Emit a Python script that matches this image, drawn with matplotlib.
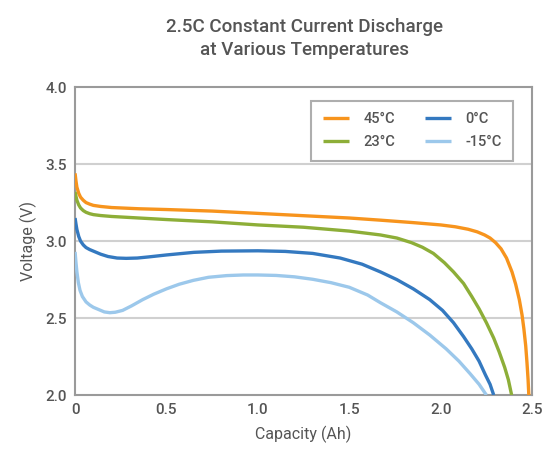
import matplotlib
matplotlib.use("Agg")
import matplotlib.pyplot as plt

# Discharge curves at 2.5C: capacity (Ah) vs voltage (V)
cap_45 = [0.0, 0.005, 0.01, 0.02, 0.03, 0.045, 0.06, 0.08, 0.1, 0.14, 0.2, 0.35, 0.5, 0.75, 1.0, 1.25, 1.5, 1.67, 1.85, 2.0, 2.08, 2.15, 2.2, 2.24, 2.27, 2.3, 2.33, 2.36, 2.39, 2.41, 2.43, 2.445, 2.455, 2.465, 2.472, 2.478, 2.482]
volt_45 = [3.44, 3.39, 3.35, 3.31, 3.285, 3.265, 3.25, 3.24, 3.232, 3.225, 3.218, 3.21, 3.205, 3.195, 3.18, 3.165, 3.15, 3.136, 3.12, 3.105, 3.093, 3.077, 3.06, 3.04, 3.02, 2.99, 2.95, 2.89, 2.8, 2.72, 2.62, 2.52, 2.43, 2.32, 2.21, 2.1, 2.0]

cap_23 = [0.0, 0.005, 0.01, 0.02, 0.03, 0.045, 0.06, 0.08, 0.1, 0.14, 0.2, 0.35, 0.5, 0.75, 1.0, 1.25, 1.5, 1.67, 1.76, 1.84, 1.9, 1.96, 2.02, 2.07, 2.125, 2.17, 2.21, 2.25, 2.29, 2.32, 2.35, 2.37, 2.388]
volt_23 = [3.32, 3.29, 3.265, 3.235, 3.215, 3.198, 3.187, 3.178, 3.172, 3.166, 3.16, 3.15, 3.14, 3.125, 3.105, 3.09, 3.065, 3.04, 3.02, 2.99, 2.96, 2.92, 2.86, 2.8, 2.725, 2.64, 2.56, 2.47, 2.37, 2.28, 2.18, 2.1, 2.0]

cap_0 = [0.0, 0.005, 0.01, 0.02, 0.03, 0.045, 0.06, 0.08, 0.1, 0.14, 0.18, 0.23, 0.28, 0.34, 0.4, 0.5, 0.65, 0.8, 1.0, 1.15, 1.3, 1.45, 1.57, 1.67, 1.76, 1.85, 1.94, 2.01, 2.07, 2.125, 2.17, 2.21, 2.245, 2.27, 2.29]
volt_0 = [3.15, 3.11, 3.075, 3.03, 3.0, 2.975, 2.958, 2.945, 2.935, 2.915, 2.9, 2.89, 2.888, 2.89, 2.897, 2.91, 2.927, 2.935, 2.937, 2.933, 2.92, 2.89, 2.85, 2.8, 2.75, 2.69, 2.62, 2.55, 2.47, 2.38, 2.3, 2.22, 2.13, 2.07, 2.0]

cap_m15 = [0.0, 0.005, 0.01, 0.018, 0.027, 0.04, 0.06, 0.08, 0.1, 0.13, 0.16, 0.19, 0.22, 0.26, 0.31, 0.37, 0.43, 0.5, 0.57, 0.647, 0.73, 0.83, 0.92, 1.0, 1.1, 1.2, 1.3, 1.4, 1.5, 1.6, 1.67, 1.76, 1.85, 1.94, 2.03, 2.1, 2.16, 2.21, 2.25]
volt_m15 = [2.93, 2.86, 2.8, 2.73, 2.68, 2.64, 2.605, 2.585, 2.57, 2.555, 2.54, 2.535, 2.538, 2.55, 2.58, 2.62, 2.655, 2.69, 2.72, 2.745, 2.765, 2.776, 2.78, 2.78, 2.777, 2.768, 2.752, 2.73, 2.7, 2.65, 2.6, 2.54, 2.47, 2.39, 2.3, 2.22, 2.14, 2.07, 2.0]

series = [
    ("45°C", cap_45, volt_45, "#F7941D"),
    ("23°C", cap_23, volt_23, "#8DAE38"),
    ("0°C", cap_0, volt_0, "#3479C0"),
    ("-15°C", cap_m15, volt_m15, "#9CC8EB"),
]

x_ticks = [0, 0.5, 1.0, 1.5, 2.0, 2.5]
x_tick_labels = ["0", "0.5", "1.0", "1.5", "2.0", "2.5"]
y_ticks = [2.0, 2.5, 3.0, 3.5, 4.0]
y_tick_labels = ["2.0", "2.5", "3.0", "3.5", "4.0"]

text_color = "#555555"
plt.rcParams["font.family"] = ["Roboto", "DejaVu Sans"]
plt.rcParams["font.weight"] = "medium"

fig = plt.figure(figsize=(5.48, 4.61), dpi=100)
ax = fig.add_axes([0.137, 0.143, 0.834, 0.668])

for label, x, y, color in series:
    ax.plot(x, y, color=color, lw=2.4, label=label, solid_capstyle="butt",
            solid_joinstyle="round", zorder=3)

ax.set_xlim(0, 2.5)
ax.set_ylim(2.0, 4.0)
ax.set_xticks(x_ticks)
ax.set_xticklabels(x_tick_labels)
ax.set_yticks(y_ticks)
ax.set_yticklabels(y_tick_labels)
ax.tick_params(length=0, labelsize=11, labelcolor=text_color, pad=6)

for yv in y_ticks[1:-1]:
    ax.axhline(yv, color="#D0D0D0", lw=1.5, zorder=1)

for spine in ax.spines.values():
    spine.set_color("#9A9A9A")
    spine.set_linewidth(1.5)

ax.set_xlabel("Capacity (Ah)", fontsize=11.5, color=text_color, labelpad=6)
ax.set_ylabel("Voltage (V)", fontsize=11.5, color=text_color, labelpad=6)

fig.text(0.555, 0.96, "2.5C Constant Current Discharge\nat Various Temperatures",
         ha="center", va="top", fontsize=13.5, color=text_color, linespacing=1.3)

leg = ax.legend(ncol=2, loc="upper right", bbox_to_anchor=(0.975, 0.98),
                frameon=True, fancybox=False, fontsize=10.5, handlelength=1.8,
                handletextpad=1.0, columnspacing=2.0, borderpad=0.8, labelspacing=0.6)
leg.get_frame().set_edgecolor("#9A9A9A")
leg.get_frame().set_linewidth(1.5)
for t in leg.get_texts():
    t.set_color(text_color)

fig.savefig("out.png", dpi=100)
